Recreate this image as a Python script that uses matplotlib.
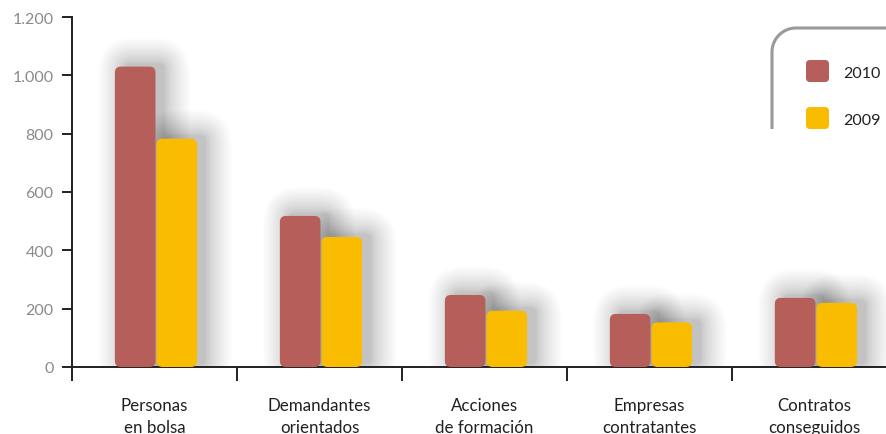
#!/usr/bin/env python3
"""plot.py
Grouped bar chart 2010 vs 2009 with rounded bars and soft shadows.
"""
import numpy as np
from matplotlib import pyplot as plt
from matplotlib.patches import FancyBboxPatch
from matplotlib.path import Path
from matplotlib.patches import PathPatch
from matplotlib.transforms import Affine2D

categories = ["Personas\nen bolsa", "Demandantes\norientados", "Acciones\nde formación",
              "Empresas\ncontratantes", "Contratos\nconseguidos"]
values_2010 = [1030, 518, 247, 182, 237]
values_2009 = [783, 446, 193, 153, 220]
y_ticks = [0, 200, 400, 600, 800, 1000, 1200]
y_tick_labels = ["0", "200", "400", "600", "800", "1.000", "1.200"]
series_labels = ["2010", "2009"]

RED = "#B55E5A"
YELLOW = "#FABC00"
DARK = "#231f20"

W, H = 887, 435
plt.rcParams['font.family'] = ['Lato', 'DejaVu Sans']

fig = plt.figure(figsize=(W / 100, H / 100), dpi=100)
# axes box in pixels: left 72, top 18, bottom 368, right edge of image
ax = fig.add_axes([72 / W, (H - 368) / H, (W - 72) / W, 350 / H])
ax.set_xlim(-0.5, 4.44)
ax.set_ylim(0, 1200)

# data units per pixel, used to keep corners round
px_x = (4.44 + 0.5) / (W - 72)
px_y = 1200 / 350
aspect = px_y / px_x

x = np.arange(len(categories))
bw = 0.246
bars_a = ax.bar(x - bw / 2 + px_x, values_2010, bw)
bars_b = ax.bar(x + bw / 2 + 2 * px_x, values_2009, bw)


def rounded(bar, color):
    x0, w, h = bar.get_x(), bar.get_width(), bar.get_height()
    bar.set_visible(False)
    # soft shadow, offset to the right and up a bit (pads packed near the bar)
    for k in range(0, 30):
        p = 26 * (k / 29) ** 1.4
        ax.add_patch(FancyBboxPatch(
            (x0 + 9 * px_x, 3 * px_y), w, h,
            boxstyle=f"round,pad={p * px_x},rounding_size={(6 + 1.2 * p) * px_x}",
            mutation_aspect=aspect, fc="black", ec="none", alpha=0.0062, zorder=1))
    ax.add_patch(FancyBboxPatch(
        (x0, 0), w, h,
        boxstyle=f"round,pad=0,rounding_size={6 * px_x}",
        mutation_aspect=aspect, fc=color, ec="none", zorder=3))


for b in bars_a:
    rounded(b, RED)
for b in bars_b:
    rounded(b, YELLOW)

# spines and ticks
for s in ["top", "right"]:
    ax.spines[s].set_visible(False)
for s in ["left", "bottom"]:
    ax.spines[s].set_color(DARK)
    ax.spines[s].set_linewidth(1.4)

ax.set_yticks(y_ticks)
ax.set_yticklabels(y_tick_labels)
ax.tick_params(axis="y", length=7.2, width=1.4, color=DARK, pad=6,
               labelsize=11.5, labelcolor="#8a8a8a")

ax.set_xticks(np.arange(-0.5, 4.5, 1.0))
ax.set_xticklabels([])
ax.tick_params(axis="x", which="major", length=10, width=1.4, color=DARK)
ax.set_xticks(x, minor=True)
ax.set_xticklabels(categories, minor=True, linespacing=1.45)
ax.tick_params(axis="x", which="minor", length=0, pad=21.5, labelsize=12.2,
               labelcolor=DARK)

# legend drawn in pixel coordinates (origin at top-left)
px = Affine2D().scale(1 / W, -1 / H).translate(0, 1) + fig.transFigure
r = 24
ang = np.linspace(np.pi, np.pi / 2, 20)
arc = np.column_stack([772 + r + r * np.cos(ang), 29 + r - r * np.sin(ang)])
pts = np.vstack([[772, 130], arc, [W, 29]])
fig.patches.append(PathPatch(Path(pts), transform=px, fill=False,
                             ec="#9a9a9a", lw=2.2))

for i, (lab, col) in enumerate(zip(series_labels, [RED, YELLOW])):
    top = 61 + i * 47
    fig.patches.append(FancyBboxPatch(
        (806, top), 23, 22, boxstyle="round,pad=0,rounding_size=4",
        transform=px, fc=col, ec="none"))
    fig.text(843, top + 13, lab, transform=px, ha="left", va="center",
             fontsize=11.5, color=DARK)

fig.savefig("out.png", dpi=100)
